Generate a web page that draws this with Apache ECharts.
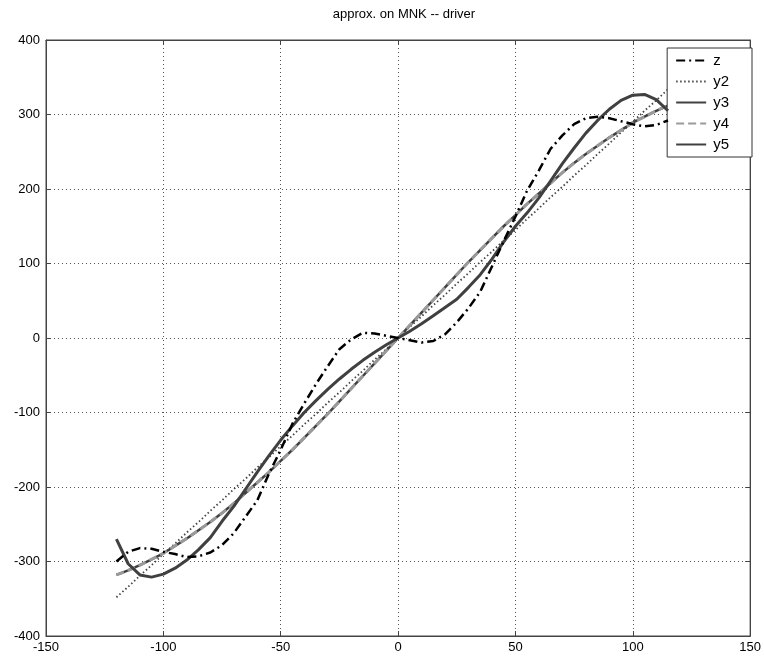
<!DOCTYPE html>
<html>
<head>
<meta charset="utf-8">
<script src="https://cdn.jsdelivr.net/npm/echarts@6/dist/echarts.min.js"></script>
<style>
html,body{margin:0;padding:0;background:#fff;}
#chart{width:764px;height:657px;}
</style>
</head>
<body>
<div id="chart"></div>
<script>
const xs = [-120,-115,-110,-105,-100,-95,-90,-85,-80,-75,-70,-65,-60,-55,-50,-45,-40,-35,-30,-25,-20,-15,-10,-5,0,5,10,15,20,25,30,35,40,45,50,55,60,65,70,75,80,85,90,95,100,105,110,115];
const zVals = [-300,-287,-282,-283,-287,-290,-294,-293,-288,-278,-262,-240,-218,-182,-150,-115,-88,-62,-38,-15,-2,7,6,3,0,-3,-6,-4,5,21,40,62,96,130,163,198,225,254,272,287,295,297,295,291,287,284,286,292];
const y2Vals = [-348,-334,-319,-305,-290,-276,-261,-247,-232,-218,-203,-189,-174,-160,-145,-131,-116,-102,-87,-73,-58,-44,-29,-15,0,15,29,44,58,73,87,102,116,131,145,160,174,189,203,218,232,247,261,276,290,305,319,334];
const y3Vals = [-318,-312,-305,-297,-289,-279,-269,-258,-247,-235,-222,-208,-194,-180,-165,-150,-134,-118,-102,-85,-68,-51,-34,-17,0,17,34,51,68,85,102,118,134,150,165,180,194,208,222,235,247,258,269,279,289,297,305,312];
const y4Vals = [-318,-312,-305,-297,-289,-279,-269,-258,-247,-235,-222,-208,-194,-180,-165,-150,-134,-118,-102,-85,-68,-51,-34,-17,0,17,34,51,68,85,102,118,134,150,165,180,194,208,222,235,247,258,269,279,289,297,305,312];
const y5Vals = [-270,-303,-318,-321,-317,-309,-298,-284,-268,-246,-226,-203,-180,-158,-137,-118,-100,-84,-69,-55,-42,-30,-19,-9,0,9,19,30,41,52,68,85,106,129,150,168,188,211,234,255,275,292,307,319,326,327,320,305];
const seriesNames = ['z', 'y2', 'y3', 'y4', 'y5'];

const pair = (vals) => xs.map((x, i) => [x, vals[i]]);

const chart = echarts.init(document.getElementById('chart'), null, {renderer: 'canvas'});
const font = 'Liberation Sans, Arial, Helvetica, sans-serif';
const gridLine = {show: true, lineStyle: {color: '#555', type: [1, 3], width: 1}};
const axisCommon = {
  axisLine: {show: true, onZero: false, lineStyle: {color: '#444'}},
  axisTick: {show: true, inside: true, length: 5, lineStyle: {color: '#444'}}
};
chart.setOption({
  animation: false,
  backgroundColor: '#fff',
  title: {
    text: 'approx. on MNK -- driver',
    left: 399, top: 3, textAlign: 'center',
    textStyle: {fontFamily: font, fontSize: 13, fontWeight: 'normal', color: '#000'}
  },
  grid: {left: 46, right: 12, top: 40, bottom: 21, show: true, borderColor: '#444', borderWidth: 1, containLabel: false},
  legend: {
    orient: 'vertical', right: 12, top: 48,
    backgroundColor: '#fff', borderColor: '#333', borderWidth: 1,
    padding: [5, 23, 5, 8], itemGap: 6, itemWidth: 30, itemHeight: 14,
    itemStyle: {opacity: 0},
    textStyle: {fontFamily: font, fontSize: 15, color: '#000', padding: [0, 0, 0, 2]},
    data: seriesNames
  },
  xAxis: [
    Object.assign({
      type: 'value', min: -150, max: 150, interval: 50, position: 'bottom',
      axisLabel: {fontFamily: font, fontSize: 13, color: '#000', margin: 5},
      splitLine: gridLine
    }, axisCommon),
    Object.assign({
      type: 'value', min: -150, max: 150, interval: 50, position: 'top',
      axisLabel: {show: false}, splitLine: {show: false}
    }, axisCommon)
  ],
  yAxis: [
    Object.assign({
      type: 'value', min: -400, max: 400, interval: 100, position: 'left',
      axisLabel: {fontFamily: font, fontSize: 13, color: '#000', margin: 6},
      splitLine: gridLine
    }, axisCommon),
    Object.assign({
      type: 'value', min: -400, max: 400, interval: 100, position: 'right',
      axisLabel: {show: false}, splitLine: {show: false}
    }, axisCommon)
  ],
  series: [
    {name: 'z', type: 'line', data: pair(zVals), showSymbol: false, symbol: 'none', z: 5,
     lineStyle: {color: '#000', width: 2.5, type: [9, 4, 2, 4]}, itemStyle: {color: '#000'}},
    {name: 'y2', type: 'line', data: pair(y2Vals), showSymbol: false, symbol: 'none', z: 2,
     lineStyle: {color: '#444', width: 1.8, type: [1.5, 2.5]}, itemStyle: {color: '#444'}},
    {name: 'y3', type: 'line', data: pair(y3Vals), showSymbol: false, symbol: 'none', z: 3,
     lineStyle: {color: '#404040', width: 2.5, type: 'solid'}, itemStyle: {color: '#404040'}},
    {name: 'y4', type: 'line', data: pair(y4Vals), showSymbol: false, symbol: 'none', z: 4,
     lineStyle: {color: '#9a9a9a', width: 3, type: [8, 4]}, itemStyle: {color: '#9a9a9a'}},
    {name: 'y5', type: 'line', data: pair(y5Vals), showSymbol: false, symbol: 'none', z: 4,
     lineStyle: {color: '#404040', width: 3, type: 'solid'}, itemStyle: {color: '#404040'}}
  ]
});
</script>
</body>
</html>
